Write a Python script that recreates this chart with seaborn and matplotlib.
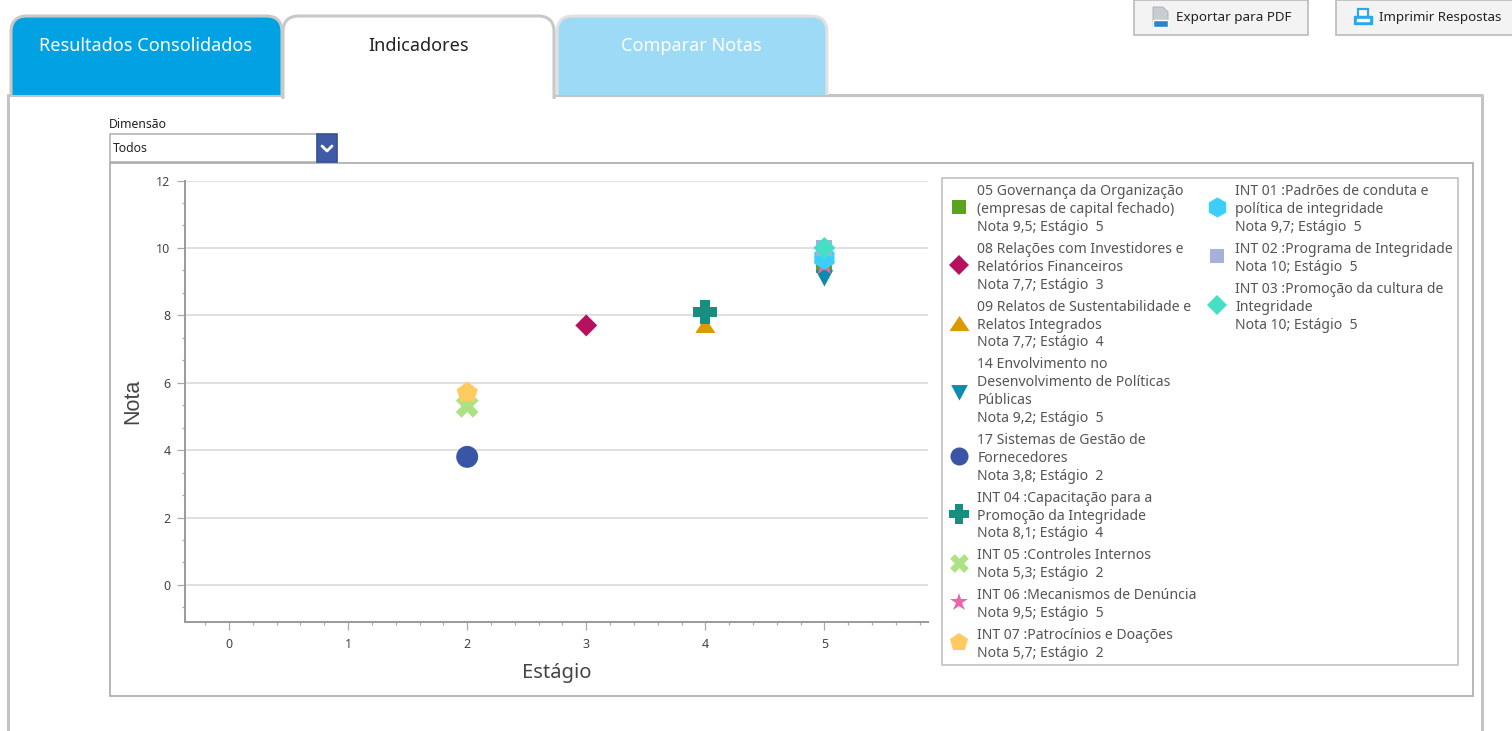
import matplotlib
matplotlib.use("Agg")
import matplotlib.pyplot as plt
import pandas as pd
import seaborn as sns
from matplotlib.legend_handler import HandlerLine2D
from matplotlib.lines import Line2D
from matplotlib.patches import PathPatch, Rectangle, Polygon
from matplotlib.path import Path
from matplotlib.ticker import AutoMinorLocator, MultipleLocator

# Chart values
nomes = [
    "05 Governança da Organização\n(empresas de capital fechado)",
    "08 Relações com Investidores e\nRelatórios Financeiros",
    "09 Relatos de Sustentabilidade e\nRelatos Integrados",
    "14 Envolvimento no\nDesenvolvimento de Políticas\nPúblicas",
    "17 Sistemas de Gestão de\nFornecedores",
    "INT 04 :Capacitação para a\nPromoção da Integridade",
    "INT 05 :Controles Internos",
    "INT 06 :Mecanismos de Denúncia",
    "INT 07 :Patrocínios e Doações",
    "INT 01 :Padrões de conduta e\npolítica de integridade",
    "INT 02 :Programa de Integridade",
    "INT 03 :Promoção da cultura de\nIntegridade",
]
nota_labels = ["9,5", "7,7", "7,7", "9,2", "3,8", "8,1", "5,3", "9,5", "5,7", "9,7", "10", "10"]
notas = [9.5, 7.7, 7.7, 9.2, 3.8, 8.1, 5.3, 9.5, 5.7, 9.7, 10, 10]
estagios = [5, 3, 4, 5, 2, 4, 2, 5, 2, 5, 5, 5]

# Fatter shapes than the stock matplotlib ones
a = 0.42
MAIS = Path([(-a, -1), (a, -1), (a, -a), (1, -a), (1, a), (a, a), (a, 1), (-a, 1),
             (-a, a), (-1, a), (-1, -a), (-a, -a), (-a, -1)], closed=True)
b = 0.5
VEZES = Path([(0, -b), (b, -1), (1, -b), (b, 0), (1, b), (b, 1), (0, b), (-b, 1),
              (-1, b), (-b, 0), (-1, -b), (-b, -1), (0, -b)], closed=True)
TRI_UP = Path([(-1, -0.75), (1, -0.75), (0, 0.75), (-1, -0.75)], closed=True)
TRI_DOWN = Path([(-0.75, 0.4), (0.75, 0.4), (0, -1), (-0.75, 0.4)], closed=True)

# Marker styles, same order as the series
cores = ["#5BA31F", "#B5115F", "#DA9A00", "#0E8CB0", "#3A55A5", "#178E7F",
         "#ABE283", "#EF64A8", "#FFCA5F", "#3CCFFD", "#A3B1DB", "#45DFC5"]
marcadores = ["s", "D", TRI_UP, TRI_DOWN, "o", MAIS, VEZES, "*", "p", "h", "s", "D"]
tamanhos = [130, 125, 210, 284, 250, 300, 270, 280, 260, 280, 130, 125]
legenda_ms = [10, 10, 14.5, 16, 13, 14.5, 13.5, 13.5, 13.5, 14.5, 10, 10.5]

TEXTO = "#555555"
FONTE = ["Noto Sans", "DejaVu Sans"]
W, H = 1512, 731

sns.set_theme(style="white")
plt.rcParams["font.family"] = FONTE

rotulos = [f"{n}\nNota {v}; Estágio  {e}" for n, v, e in zip(nomes, nota_labels, estagios)]
df = pd.DataFrame({"Estágio": estagios, "Nota": notas, "serie": rotulos})

fig = plt.figure(figsize=(W / 100, H / 100), dpi=100, facecolor="white")


def fx(px):
    return px / W


def fy(py):
    return 1 - py / H


class HandlerAlto(HandlerLine2D):
    # legend markers sit a little above the middle of their label
    def create_artists(self, legend, orig_handle, xdescent, ydescent, width, height, fontsize, trans):
        return super().create_artists(legend, orig_handle, xdescent, ydescent - 4.3, width, height, fontsize, trans)


# Window chrome is drawn in pixel coordinates on a background axes
bg = fig.add_axes([0, 0, 1, 1], zorder=0)
bg.set_xlim(0, W)
bg.set_ylim(H, 0)
bg.axis("off")


def aba(x0, x1, y0, y1, cor, borda):
    r = 16
    verts = [(x0, y1), (x0, y0 + r), (x0, y0), (x0 + r, y0), (x1 - r, y0), (x1, y0), (x1, y0 + r), (x1, y1)]
    codes = [Path.MOVETO, Path.LINETO, Path.CURVE3, Path.CURVE3, Path.LINETO, Path.CURVE3, Path.CURVE3, Path.LINETO]
    bg.add_patch(PathPatch(Path(verts, codes), facecolor=cor, edgecolor=borda, lw=2.2, zorder=3))


def caixa(x0, y0, x1, y1, cor="white", borda="#AAAAAA", lw=1.2, z=1):
    bg.add_patch(Rectangle((x0, y0), x1 - x0, y1 - y0, facecolor=cor, edgecolor=borda, lw=lw, zorder=z))


# Panel border
bg.plot([8, 8, 1482, 1482], [H + 5, 95, 95, H + 5], color="#C4C4C4", lw=2.2, zorder=2)
aba(11, 282, 16, 95, "#00A2E3", "#C8C8C8")
aba(557, 827, 16, 95, "#9CDAF6", "#E2E2E2")
aba(283, 554, 16, 99, "white", "#C8C8C8")
bg.text(146, 46, "Resultados Consolidados", color="white", fontsize=13, ha="center", va="center", fontweight="medium", zorder=5)
bg.text(419, 46, "Indicadores", color="#222222", fontsize=13, ha="center", va="center", zorder=5)
bg.text(691, 46, "Comparar Notas", color="white", fontsize=13, ha="center", va="center", fontweight="medium", zorder=5)

# Top right buttons
caixa(1134, 0, 1308, 35, "#F3F3F3", "#BBBBBB")
caixa(1336, 0, 1516, 35, "#F3F3F3", "#BBBBBB")
bg.text(1176, 18, "Exportar para PDF", color="#222222", fontsize=9.7, va="center", zorder=5)
bg.text(1379, 18, "Imprimir Respostas", color="#222222", fontsize=9.6, va="center", zorder=5)
# pdf icon
bg.add_patch(Polygon([(1153, 7), (1163, 7), (1168, 12), (1168, 26), (1153, 26)], facecolor="#C9CDD2", edgecolor="#A8ADB3", lw=0.6, zorder=4))
bg.add_patch(Rectangle((1153, 20), 15, 6.5, facecolor="#2A86C8", zorder=5))
# printer icon
bg.add_patch(Rectangle((1358, 9), 10, 8, facecolor="white", edgecolor="#2BA8EC", lw=1.6, zorder=4))
bg.add_patch(Rectangle((1354, 16), 18, 8, facecolor="#2BA8EC", edgecolor="#2BA8EC", lw=1, zorder=5))
bg.add_patch(Rectangle((1357, 19), 12, 2, facecolor="white", zorder=6))

# Dropdown
bg.text(109, 125, "Dimensão", color="#222222", fontsize=8.8, va="center", zorder=5)
caixa(110, 134, 318, 162, "white", "#B5B5B5")
bg.text(113, 149, "Todos", color="#222222", fontsize=8.8, va="center", zorder=5)
caixa(317, 134, 337, 162, "#3F5AA6", "#36508F", z=2)
bg.plot([322, 327, 332], [146, 151, 146], color="white", lw=2, zorder=5)

# Chart frames
caixa(110, 163, 1473, 696, "white", "#AAAAAA", 1.2)
caixa(942, 178, 1458, 665, "white", "#C0C0C0", 1.2)

# Scatter chart
ax = fig.add_axes([fx(185), fy(622), fx(928 - 185), (622 - 180.5) / H], zorder=2)
ax.patch.set_alpha(0)
sns.scatterplot(
    data=df, x="Estágio", y="Nota", hue="serie", style="serie", size="serie",
    palette=dict(zip(rotulos, cores)),
    markers=dict(zip(rotulos, marcadores)),
    sizes=dict(zip(rotulos, tamanhos)),
    linewidth=0, legend="full", ax=ax,
)
handles, labels = ax.get_legend_handles_labels()
ax.get_legend().remove()

ax.set_xlim(-0.37, 5.87)
ax.set_ylim(-1.1, 12)
ax.xaxis.set_major_locator(MultipleLocator(1))
ax.xaxis.set_minor_locator(AutoMinorLocator(5))
ax.yaxis.set_major_locator(MultipleLocator(2))
ax.yaxis.set_minor_locator(AutoMinorLocator(3))
ax.grid(True, axis="y", color="#DDDDDD", lw=1.3)
ax.set_axisbelow(True)
sns.despine(ax=ax)
for lado in ["left", "bottom"]:
    ax.spines[lado].set_color("#999999")
    ax.spines[lado].set_linewidth(1.4)
ax.tick_params(which="major", length=5.5, width=0.9, color="#AAAAAA", labelsize=9, labelcolor="#444444", bottom=True, left=True)
ax.tick_params(which="minor", length=2.5, width=0.9, color="#AAAAAA", bottom=True, left=True)
ax.tick_params(axis="x", which="major", pad=6)
ax.tick_params(axis="y", which="major", pad=5)
ax.set_xlabel("Estágio", fontsize=14.5, color="#444444", labelpad=9)
ax.set_ylabel("Nota", fontsize=15.5, color="#444444", family="Liberation Sans", labelpad=9)

# Legend split in two columns, same way as the reference
for h, ms in zip(handles, legenda_ms):
    h.set_markersize(ms)
    h.set_markeredgewidth(0)
for ini, fim, x_leg in [(0, 9, 946.5), (9, 12, 1204.5)]:
    leg = fig.legend(
        handles[ini:fim], labels[ini:fim], loc="upper left",
        bbox_to_anchor=(fx(x_leg), fy(180)), frameon=False, borderaxespad=0,
        borderpad=0.3, fontsize=10.1, labelcolor=TEXTO, handlelength=1.2,
        handletextpad=0.7, labelspacing=0.5,
        handler_map={Line2D: HandlerAlto()},
    )
    for t in leg.get_texts():
        t.set_linespacing(1.26)

fig.savefig("out.png", dpi=100)
